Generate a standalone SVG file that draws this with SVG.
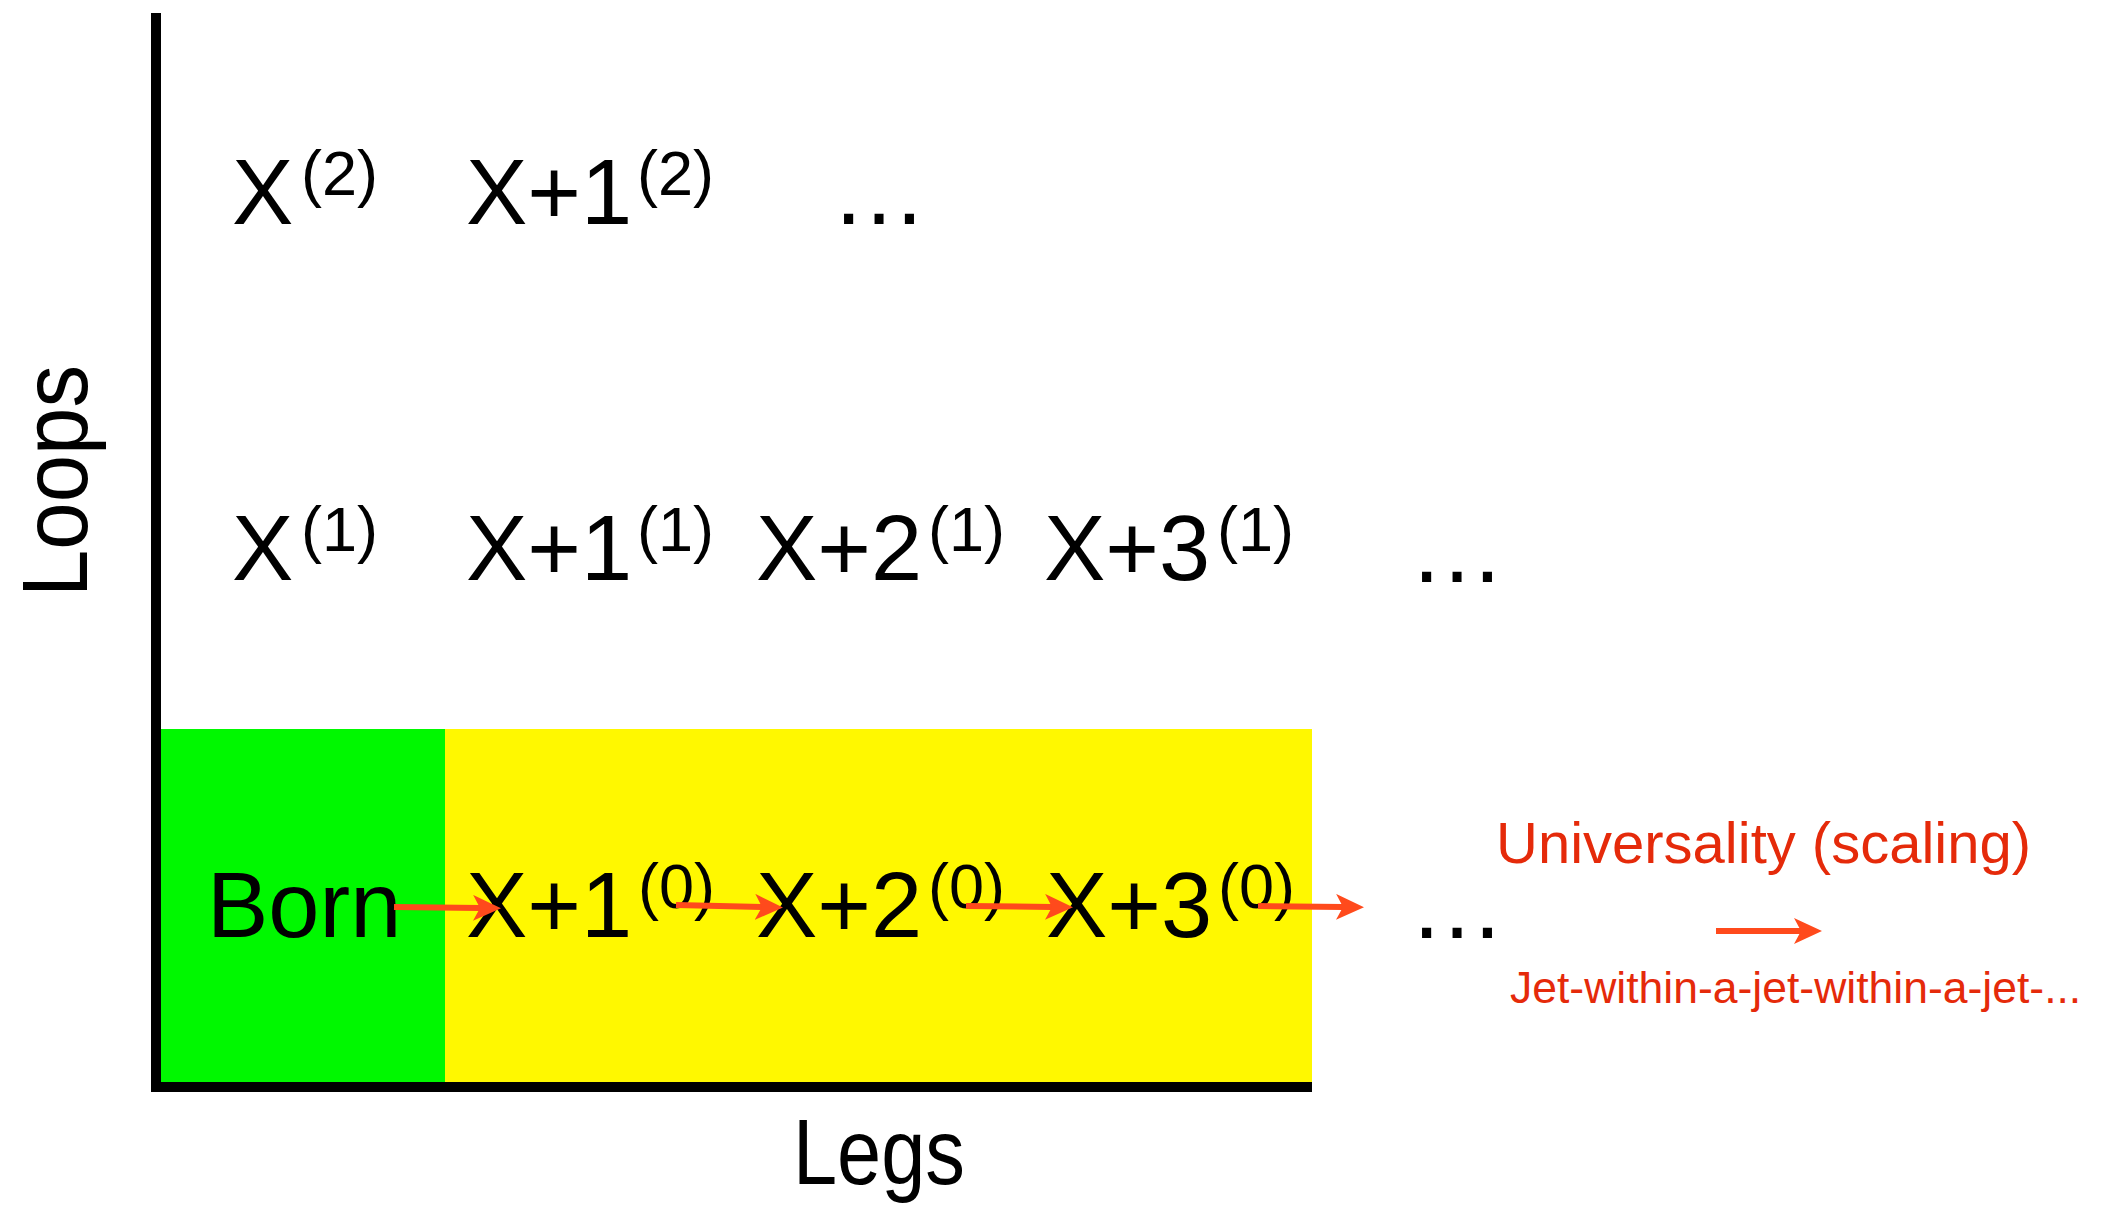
<svg xmlns="http://www.w3.org/2000/svg" width="2110" height="1205" viewBox="0 0 2110 1205">
<style>
.m{font-family:"Liberation Sans",Arial,sans-serif;font-size:92px;fill:#000}
.s{font-family:"Liberation Sans",Arial,sans-serif;font-size:63px;fill:#000}
.d{font-family:"Liberation Sans",Arial,sans-serif;font-size:96px;fill:#000}
.r{font-family:"Liberation Sans",Arial,sans-serif;fill:#E52A0A}
.arr{stroke:#FF4A1C;stroke-width:6;fill:none;marker-end:url(#ah)}
.ax{stroke:#000;stroke-width:10;fill:none}
</style>
<defs>
<marker id="ah" viewBox="0 0 28 26" refX="7" refY="13" markerWidth="28" markerHeight="26" markerUnits="userSpaceOnUse" orient="auto">
<path d="M0,0 L28,13 L0,26 L7,13 Z" fill="#FF4A1C"/>
</marker>
</defs>
<rect width="2110" height="1205" fill="#fff"/>
<g id="regions">
<rect id="born-region" x="161" y="729" width="284" height="353" fill="#00F800"/>
<rect id="tree-region" x="445" y="729" width="867" height="353" fill="#FFF800"/>
</g>
<g id="axes">
<line class="ax" x1="156" y1="13" x2="156" y2="1092"/>
<line class="ax" x1="151" y1="1087" x2="1312" y2="1087"/>
<text class="m" transform="translate(87,481) rotate(-90)" text-anchor="middle" textLength="232" lengthAdjust="spacingAndGlyphs">Loops</text>
<text class="m" x="793" y="1184" textLength="172" lengthAdjust="spacingAndGlyphs">Legs</text>
</g>
<g id="row2">
<g id="x_2"><text class="m" x="232" y="224">X</text><text class="s" x="301" y="195">(2)</text></g>
<g id="x1_2"><text class="m" x="466" y="224">X+1</text><text class="s" x="637" y="195">(2)</text></g>
<g id="dots_2"><text class="d" x="831" y="224">…</text></g>
</g>
<g id="row1">
<g id="x_1"><text class="m" x="232" y="580">X</text><text class="s" x="301" y="551">(1)</text></g>
<g id="x1_1"><text class="m" x="466" y="580">X+1</text><text class="s" x="637" y="551">(1)</text></g>
<g id="x2_1"><text class="m" x="756" y="580">X+2</text><text class="s" x="928" y="551">(1)</text></g>
<g id="x3_1"><text class="m" x="1044" y="580">X+3</text><text class="s" x="1217" y="551">(1)</text></g>
<g id="dots_1"><text class="d" x="1409" y="582">…</text></g>
</g>
<g id="row0">
<g id="born"><text class="m" x="207" y="937">Born</text></g>
<g id="x1_0"><text class="m" x="466" y="937">X+1</text><text class="s" x="638" y="908">(0)</text></g>
<g id="x2_0"><text class="m" x="756" y="937">X+2</text><text class="s" x="928" y="908">(0)</text></g>
<g id="x3_0"><text class="m" x="1046" y="937">X+3</text><text class="s" x="1218" y="908">(0)</text></g>
<g id="dots_0"><text class="d" x="1409" y="938">…</text></g>
</g>
<g id="universality">
<text class="r" x="1496" y="863" font-size="58">Universality (scaling)</text>
<text class="r" x="1510" y="1003" font-size="44.5">Jet-within-a-jet-within-a-jet-...</text>
</g>
<g id="connectors">
<line class="arr" x1="394" y1="907" x2="480" y2="908"/>
<line class="arr" x1="676" y1="905" x2="762" y2="907"/>
<line class="arr" x1="966" y1="906" x2="1052" y2="907"/>
<line class="arr" x1="1258" y1="906" x2="1343" y2="907"/>
<line class="arr" x1="1716" y1="931" x2="1801" y2="931"/>
</g>
</svg>
